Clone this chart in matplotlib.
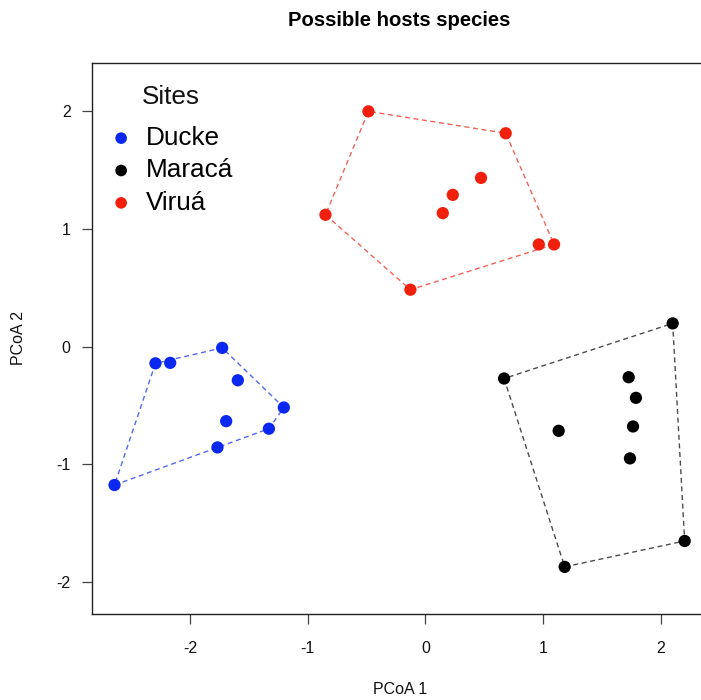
import numpy as np
import matplotlib
matplotlib.use("Agg")
import matplotlib.pyplot as plt

plt.rcParams['font.family'] = ['Liberation Sans', 'DejaVu Sans']

# PCoA scores of the possible host species at each site
ducke_x = [-2.643, -2.295, -2.170, -1.728, -1.595, -1.694, -1.768, -1.331, -1.204]
ducke_y = [-1.175, -0.142, -0.138, -0.011, -0.286, -0.633, -0.856, -0.697, -0.517]

maraca_x = [2.101, 0.668, 1.727, 1.789, 1.764, 1.132, 1.738, 2.203, 1.183]
maraca_y = [0.197, -0.271, -0.260, -0.435, -0.678, -0.715, -0.949, -1.650, -1.870]

virua_x = [-0.485, 0.682, -0.850, 0.472, 0.232, 0.147, 0.963, 1.093, -0.128]
virua_y = [1.997, 1.811, 1.119, 1.432, 1.288, 1.133, 0.867, 0.867, 0.483]

site_names = ["Ducke", "Maracá", "Viruá"]
site_colors = ["#0a28f0", "#000000", "#f0200c"]
x_ticks = [-2, -1, 0, 1, 2]
y_ticks = [-2, -1, 0, 1, 2]


def convex_hull(xs, ys):
    """Monotone-chain convex hull; returns closed vertex arrays."""
    pts = sorted(set(zip(xs, ys)))

    def cross(o, a, b):
        return (a[0] - o[0]) * (b[1] - o[1]) - (a[1] - o[1]) * (b[0] - o[0])

    lower, upper = [], []
    for p in pts:
        while len(lower) >= 2 and cross(lower[-2], lower[-1], p) <= 0:
            lower.pop()
        lower.append(p)
    for p in reversed(pts):
        while len(upper) >= 2 and cross(upper[-2], upper[-1], p) <= 0:
            upper.pop()
        upper.append(p)
    hull = lower[:-1] + upper[:-1]
    hull.append(hull[0])
    hx, hy = zip(*hull)
    return np.array(hx), np.array(hy)


W, H = 701, 700
fig = plt.figure(figsize=(W / 100, H / 100), dpi=100)
left_px, right_px, top_px, bottom_px = 91.7, 707.5, 62.7, 614.0
ax = fig.add_axes([left_px / W, 1 - bottom_px / H,
                   (right_px - left_px) / W, (bottom_px - top_px) / H])

groups = [(ducke_x, ducke_y), (maraca_x, maraca_y), (virua_x, virua_y)]
handles = []
for (gx, gy), name, col in zip(groups, site_names, site_colors):
    hx, hy = convex_hull(gx, gy)
    ax.plot(hx, hy, linestyle=(0, (3.6, 2.6)), color=col, lw=1.0,
            alpha=0.7, zorder=2)
    h = ax.scatter(gx, gy, s=78, color=col, edgecolors='none', zorder=3,
                   label=name)
    handles.append(h)

ax.set_xlim(-2.837, 2.397)
ax.set_ylim(-2.27, 2.41)
ax.set_xticks(x_ticks)
ax.set_yticks(y_ticks)
ax.set_xticklabels([str(v) for v in x_ticks])
ax.set_yticklabels([str(v) for v in y_ticks])

for sp in ax.spines.values():
    sp.set_linewidth(1.0)
    sp.set_color("#222222")

ax.tick_params(axis='both', direction='out', length=7.2, width=0.9,
               color="#444444", labelsize=11.5, labelcolor="#111111")
ax.tick_params(axis='x', pad=12)
ax.tick_params(axis='y', pad=8)

ax.set_xlabel("PCoA 1", fontsize=11.5, color="#111111", va='center')
ax.xaxis.set_label_coords(0.5, (H - 690 - (H - bottom_px)) / (bottom_px - top_px))
ax.set_ylabel("PCoA 2", fontsize=11.5, color="#111111", va='center')
ax.yaxis.set_label_coords((18 - left_px) / (right_px - left_px), 0.5)

ax.set_title("Possible hosts species", fontsize=14.6, fontweight='bold',
             y=1 + (top_px - 21.0) / (bottom_px - top_px), va='center', pad=0)

# legend entries plus a centred "Sites" heading
leg = ax.legend(handles=handles, loc='upper left',
                bbox_to_anchor=(110.7 / W, 1 - 126 / H),
                bbox_transform=fig.transFigure, frameon=False,
                fontsize=18.8, handlelength=0.8, handletextpad=0.55,
                labelspacing=0.32, borderpad=0, borderaxespad=0,
                markerscale=1.0, scatterpoints=1)
for lh in leg.legend_handles:
    lh.set_sizes([70])
fig.text(170.5 / W, 1 - 97 / H, "Sites", fontsize=18.8, ha='center',
         va='center', color="#111111")

fig.savefig("out.png", dpi=100)
